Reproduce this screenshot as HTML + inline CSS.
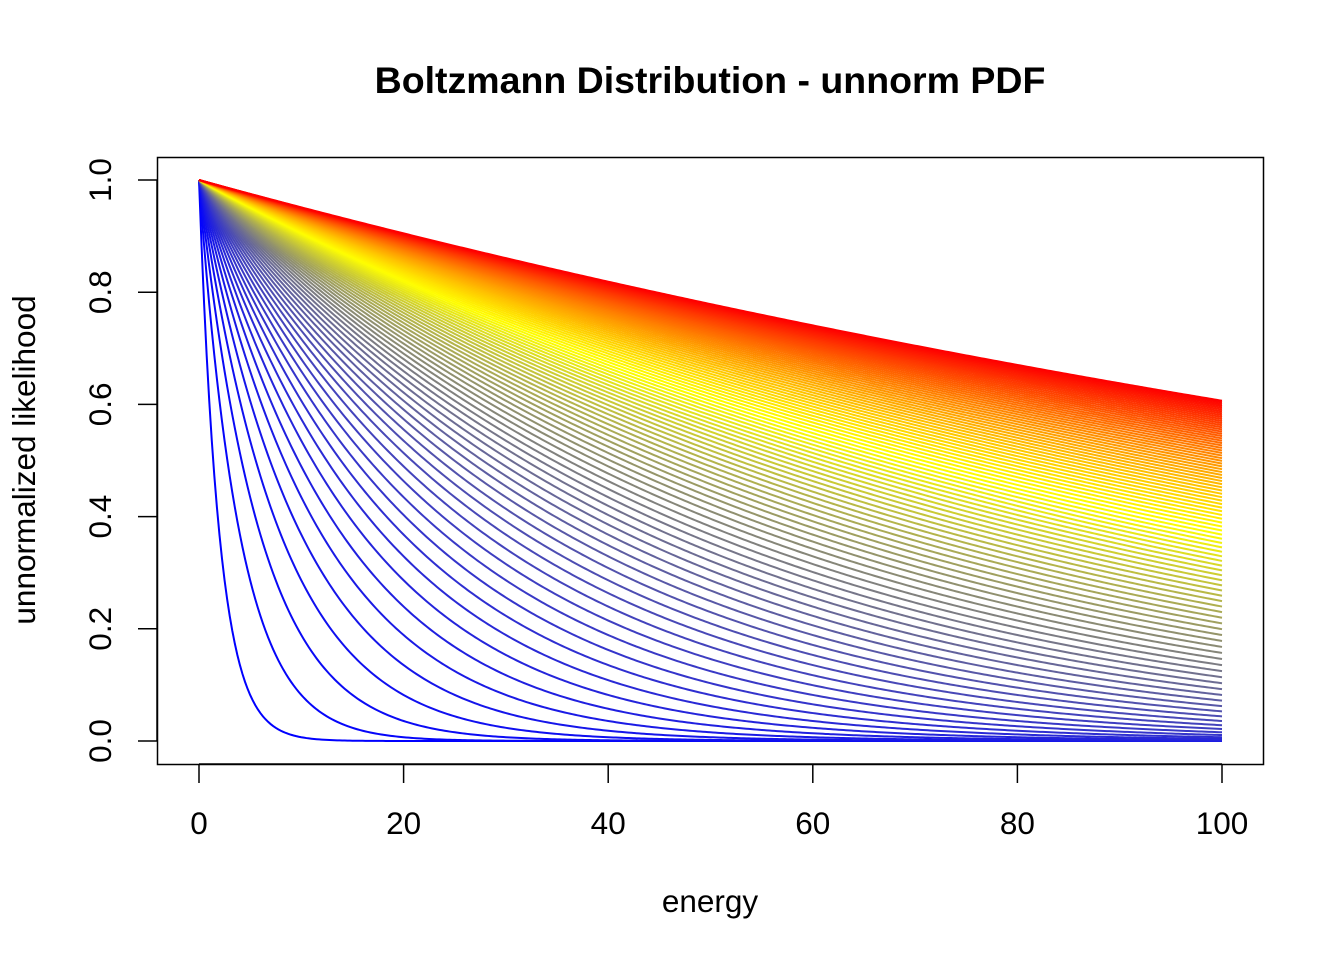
<!DOCTYPE html>
<html><head><meta charset="utf-8"><style>
html,body{margin:0;padding:0;background:#fff;}
svg{display:block;}
text{font-family:"Liberation Sans",Arial,sans-serif;fill:#000;}
</style></head><body>
<svg id="s" width="1344" height="960" viewBox="0 0 1344 960" xmlns="http://www.w3.org/2000/svg">
<rect width="1344" height="960" fill="#fff"/>
<text x="710" y="93" font-size="37.5" font-weight="bold" text-anchor="middle">Boltzmann Distribution - unnorm PDF</text>
<g id="curves"></g>
<rect x="157.5" y="157.5" width="1106" height="607" fill="none" stroke="#000" stroke-width="1.5"/>
<g stroke="#000" stroke-width="1.5">
<line x1="199" y1="764" x2="1222" y2="764"/>
<line x1="199" y1="764" x2="199" y2="783"/>
<line x1="403.6" y1="764" x2="403.6" y2="783"/>
<line x1="608.2" y1="764" x2="608.2" y2="783"/>
<line x1="812.8" y1="764" x2="812.8" y2="783"/>
<line x1="1017.4" y1="764" x2="1017.4" y2="783"/>
<line x1="1222" y1="764" x2="1222" y2="783"/>
<line x1="157" y1="180" x2="157" y2="741"/>
<line x1="157" y1="741" x2="138" y2="741"/>
<line x1="157" y1="628.8" x2="138" y2="628.8"/>
<line x1="157" y1="516.6" x2="138" y2="516.6"/>
<line x1="157" y1="404.4" x2="138" y2="404.4"/>
<line x1="157" y1="292.2" x2="138" y2="292.2"/>
<line x1="157" y1="180" x2="138" y2="180"/>
</g>
<g font-size="31.5" text-anchor="middle">
<text x="199" y="834">0</text>
<text x="403.6" y="834">20</text>
<text x="608.2" y="834">40</text>
<text x="812.8" y="834">60</text>
<text x="1017.4" y="834">80</text>
<text x="1222" y="834">100</text>
<text x="710" y="912">energy</text>
<text transform="translate(111,741) rotate(-90)">0.0</text>
<text transform="translate(111,628.8) rotate(-90)">0.2</text>
<text transform="translate(111,516.6) rotate(-90)">0.4</text>
<text transform="translate(111,404.4) rotate(-90)">0.6</text>
<text transform="translate(111,292.2) rotate(-90)">0.8</text>
<text transform="translate(111,180) rotate(-90)">1.0</text>
<text transform="translate(35,460) rotate(-90)">unnormalized likelihood</text>
</g>
</svg>
<script>
(function(){
var g=document.getElementById('curves');var n=100;var html='';
function ramp(t){var r,gg,b;if(t<=0.5){var u=t/0.5;r=255*u;gg=255*u;b=255*(1-u);}else{var u=(t-0.5)/0.5;r=255;gg=255*(1-u);b=0;}return 'rgb('+Math.round(r)+','+Math.round(gg)+','+Math.round(b)+')';}
for(var i=0;i<n;i++){var T=2*(i+1);var d='';
for(var k=0;k<=400;k++){var x=k*0.25;var y=Math.exp(-x/T);var px=199+x*10.23;var py=741-y*561;d+=(k?'L':'M')+px.toFixed(2)+' '+py.toFixed(2);}
html+='<path d="'+d+'" fill="none" stroke="'+ramp(i/(n-1))+'" stroke-width="2"/>';}
g.innerHTML=html;})();
</script>
</body></html>
